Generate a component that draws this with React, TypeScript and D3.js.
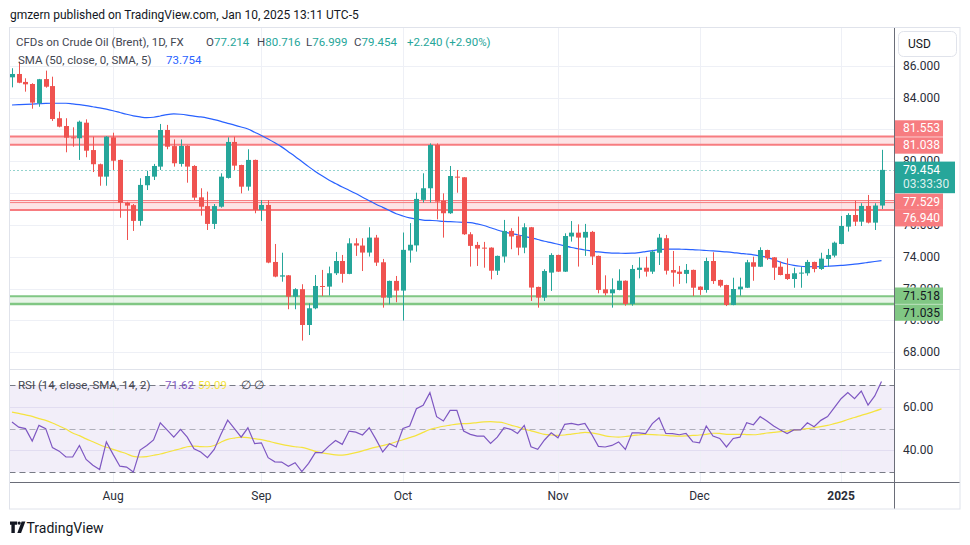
import React from 'react';
import * as d3 from 'd3';

// ---------- DATA ----------
const openP = [
  85.27, 85.48, 84.98, 84.85, 83.64, 85.16, 84.72, 82.70, 82.21, 81.50,
  81.44, 82.42, 80.70, 79.81, 79.03, 81.50, 80.08, 77.39, 77.24, 76.25,
  78.49, 79.03, 79.66, 81.96, 80.95, 79.83, 80.96, 79.70, 77.73, 77.18,
  76.06, 77.14, 78.95, 81.21, 79.76, 78.40, 80.08, 76.94, 77.25, 73.67,
  72.75, 72.83, 71.49, 71.96, 69.71, 70.76, 72.16, 72.12, 72.96, 73.73,
  72.92, 74.84, 74.70, 74.26, 75.20, 73.65, 71.43, 72.48, 71.87, 74.39,
  74.71, 77.57, 78.30, 81.02, 77.52, 76.73, 79.03, 78.99, 75.41, 74.74,
  74.57, 74.57, 73.12, 74.01, 75.62, 75.33, 74.57, 75.85, 72.10, 71.43,
  73.00, 74.11, 73.06, 75.27, 75.51, 75.20, 75.56, 74.05, 71.95, 71.70,
  71.91, 72.49, 71.03, 73.17, 73.31, 73.06, 74.25, 75.16, 73.16, 73.06,
  72.92, 73.17, 72.12, 71.91, 73.73, 72.54, 72.22, 70.97, 71.95, 72.05,
  73.65, 73.37, 74.42, 73.96, 73.37, 72.92, 72.60, 72.96, 72.96, 73.67,
  73.23, 73.86, 74.07, 74.80, 75.89, 76.62, 76.20, 77.19, 76.14, 77.214,
];
const highP = [
  85.84, 86.25, 85.21, 84.90, 85.17, 85.69, 85.31, 83.11, 82.70, 82.13,
  82.55, 82.63, 81.54, 79.85, 81.58, 81.79, 80.10, 77.45, 77.31, 78.93,
  79.40, 79.83, 82.34, 82.28, 81.37, 81.37, 81.00, 79.75, 78.30, 78.09,
  77.31, 79.24, 81.50, 81.54, 79.78, 80.75, 80.10, 77.56, 77.56, 74.80,
  74.25, 72.85, 72.02, 72.27, 71.07, 72.85, 73.17, 73.38, 74.30, 74.11,
  75.16, 75.16, 75.16, 75.85, 75.37, 73.86, 72.50, 72.79, 75.52, 76.11,
  78.02, 79.24, 81.12, 81.12, 77.98, 79.70, 79.45, 79.00, 75.54, 74.93,
  74.93, 74.59, 74.07, 76.31, 75.79, 76.52, 76.10, 75.87, 72.12, 73.21,
  74.22, 74.13, 75.47, 76.24, 76.03, 76.06, 75.62, 74.07, 72.83, 72.64,
  73.21, 72.51, 73.48, 73.96, 74.00, 74.43, 75.43, 75.37, 74.36, 73.42,
  73.54, 73.19, 72.14, 73.94, 74.28, 72.56, 72.24, 72.68, 72.68, 73.80,
  74.00, 74.59, 74.44, 73.98, 73.69, 73.90, 73.31, 73.37, 73.80, 73.69,
  74.25, 74.49, 74.95, 76.56, 76.73, 77.52, 77.36, 77.88, 77.36, 80.716,
];
const lowP = [
  84.64, 84.90, 84.37, 83.30, 83.42, 84.62, 82.53, 82.13, 80.56, 80.91,
  80.08, 80.25, 79.32, 78.46, 78.46, 79.45, 76.45, 75.05, 75.62, 75.95,
  78.19, 78.82, 79.45, 80.75, 79.66, 79.66, 78.65, 77.56, 76.58, 75.68,
  75.74, 77.08, 78.91, 79.45, 77.98, 78.15, 76.73, 76.25, 73.59, 72.71,
  72.43, 70.70, 70.70, 68.73, 69.08, 70.70, 71.53, 71.56, 72.85, 72.37,
  72.90, 74.05, 73.10, 74.01, 73.42, 70.80, 71.01, 71.14, 69.99, 73.63,
  74.32, 77.40, 77.40, 76.35, 75.20, 76.69, 78.02, 75.37, 73.38, 73.42,
  73.31, 72.58, 72.85, 73.63, 74.47, 74.09, 74.22, 71.22, 70.80, 71.22,
  71.85, 73.04, 73.04, 74.95, 73.38, 74.05, 73.48, 71.70, 71.56, 70.80,
  71.89, 70.92, 70.92, 72.64, 72.75, 72.92, 73.48, 72.88, 72.12, 72.29,
  72.33, 71.53, 71.60, 71.74, 72.29, 72.08, 70.90, 70.95, 71.55, 72.03,
  72.49, 73.35, 73.80, 72.54, 72.83, 72.54, 72.05, 72.05, 72.81, 73.02,
  73.17, 73.37, 73.96, 74.78, 75.58, 75.93, 75.93, 76.09, 75.68, 76.999,
];
const closeP = [
  85.48, 84.93, 84.83, 83.68, 85.15, 84.68, 82.65, 82.17, 81.48, 81.45,
  82.48, 80.66, 79.81, 79.03, 81.54, 80.03, 77.39, 77.21, 76.25, 78.51,
  79.07, 79.70, 81.96, 80.91, 79.87, 80.96, 79.66, 77.71, 77.14, 76.06,
  77.18, 79.03, 81.21, 79.72, 78.40, 80.08, 76.94, 77.25, 73.63, 72.75,
  72.83, 71.49, 71.96, 69.71, 70.76, 72.16, 72.12, 72.96, 73.73, 72.92,
  74.84, 74.70, 74.26, 75.20, 73.63, 71.43, 72.48, 71.87, 74.43, 74.75,
  77.63, 78.30, 81.02, 77.46, 76.73, 79.07, 78.99, 75.41, 74.68, 74.51,
  74.51, 73.12, 74.05, 75.62, 75.27, 74.57, 75.85, 72.06, 71.43, 73.10,
  74.11, 73.06, 75.30, 75.51, 75.20, 75.56, 74.01, 71.91, 71.70, 71.95,
  72.49, 71.03, 73.23, 73.31, 73.06, 74.32, 75.20, 73.12, 73.00, 72.92,
  73.17, 72.05, 71.91, 73.73, 72.47, 72.18, 70.97, 71.97, 72.12, 73.65,
  73.37, 74.42, 73.90, 73.31, 72.85, 72.60, 72.96, 73.00, 73.67, 73.23,
  73.88, 74.11, 74.88, 75.93, 76.62, 76.20, 77.19, 76.14, 77.214, 79.454,
];
const sma50 = [
  83.53, 83.55, 83.57, 83.59, 83.61, 83.63, 83.64, 83.64, 83.64, 83.60,
  83.55, 83.49, 83.42, 83.35, 83.27, 83.17, 83.06, 82.95, 82.85, 82.78,
  82.74, 82.76, 82.84, 82.93, 82.97, 82.95, 82.90, 82.83, 82.78, 82.71,
  82.61, 82.50, 82.38, 82.27, 82.15, 82.02, 81.82, 81.62, 81.40, 81.16,
  80.90, 80.60, 80.30, 79.98, 79.66, 79.36, 79.08, 78.82, 78.60, 78.38,
  78.18, 77.97, 77.74, 77.52, 77.30, 77.10, 76.90, 76.70, 76.56, 76.44,
  76.36, 76.30, 76.28, 76.26, 76.22, 76.20, 76.18, 76.16, 76.14, 76.06,
  75.96, 75.82, 75.68, 75.56, 75.46, 75.38, 75.28, 75.18, 75.08, 74.97,
  74.88, 74.78, 74.68, 74.58, 74.50, 74.42, 74.36, 74.30, 74.26, 74.23,
  74.22, 74.21, 74.22, 74.26, 74.32, 74.38, 74.44, 74.47, 74.48, 74.47,
  74.46, 74.44, 74.42, 74.39, 74.36, 74.33, 74.30, 74.26, 74.21, 74.17,
  74.12, 74.04, 73.96, 73.82, 73.66, 73.54, 73.45, 73.40, 73.38, 73.37,
  73.38, 73.40, 73.42, 73.45, 73.49, 73.53, 73.58, 73.64, 73.70, 73.754,
];
const rsi = [
  53.0, 50.7, 50.0, 44.3, 51.5, 50.0, 41.3, 39.7, 37.0, 37.0,
  42.3, 35.9, 33.2, 31.3, 43.9, 38.2, 32.8, 32.4, 30.1, 40.2,
  42.3, 44.8, 52.7, 49.4, 46.1, 49.7, 46.1, 40.8, 39.3, 36.7,
  40.5, 47.4, 53.9, 50.0, 46.1, 50.4, 43.1, 43.5, 36.7, 34.8,
  34.7, 32.8, 34.4, 30.3, 34.1, 39.0, 39.0, 42.0, 44.6, 42.8,
  48.9, 48.4, 47.1, 50.4, 45.1, 39.3, 43.1, 41.6, 50.1, 51.2,
  59.1, 60.7, 66.5, 55.5, 53.5, 58.4, 58.4, 48.9, 47.4, 46.6,
  46.6, 43.2, 46.1, 50.4, 49.7, 47.8, 51.5, 41.7, 40.5, 44.8,
  48.1, 45.8, 52.0, 52.4, 51.7, 52.4, 47.4, 41.9, 41.6, 42.3,
  43.9, 40.5, 48.1, 48.1, 47.7, 52.3, 55.0, 47.8, 47.7, 47.2,
  47.8, 44.0, 43.5, 51.2, 46.6, 45.5, 41.6, 45.5, 46.1, 52.7,
  51.8, 55.5, 53.5, 51.2, 49.4, 47.8, 49.4, 49.4, 52.7, 50.9,
  53.8, 55.5, 59.6, 63.7, 66.5, 63.7, 67.2, 60.8, 65.0, 71.62,
];
const rsiMa = [
  57.6, 57.0, 56.3, 55.6, 54.6, 53.8, 52.6, 51.2, 49.8, 48.0,
  46.8, 45.3, 44.0, 42.6, 41.5, 40.5, 39.5, 38.5, 37.3, 37.0,
  37.2, 37.8, 38.4, 39.2, 40.0, 40.8, 41.7, 42.0, 41.8, 41.7,
  42.3, 43.8, 45.1, 45.7, 46.1, 45.9, 45.4, 45.0, 44.3, 43.5,
  42.8, 42.2, 41.7, 41.4, 40.6, 39.6, 38.9, 38.4, 38.0, 37.9,
  38.3, 39.0, 39.8, 40.7, 41.5, 42.2, 43.0, 44.0, 44.9, 45.9,
  46.9, 48.3, 49.6, 50.4, 51.1, 51.6, 52.1, 52.3, 52.4, 52.8,
  53.1, 53.2, 53.0, 52.6, 51.6, 50.8, 49.8, 49.0, 48.2, 47.4,
  47.1, 46.9, 47.1, 47.5, 47.9, 48.3, 48.1, 47.5, 46.7, 46.3,
  46.1, 46.4, 46.8, 47.1, 47.4, 47.3, 47.1, 46.9, 46.7, 46.6,
  46.7, 46.9, 47.1, 47.4, 47.9, 47.8, 47.4, 47.4, 47.4, 47.3,
  47.2, 47.5, 48.0, 48.3, 48.6, 48.9, 49.3, 49.6, 50.0, 50.4,
  50.9, 51.5, 52.3, 53.1, 54.2, 55.1, 56.1, 57.0, 58.0, 59.09,
];

const priceTicks = [86, 84, 82, 80, 78, 76, 74, 72, 70, 68];
const rsiTicks = [60, 40];
const rsiBands = [70, 50, 30];
const monthLabels = ['Aug', 'Sep', 'Oct', 'Nov', 'Dec', '2025'];
const monthIndex = [15, 37, 58, 81, 102, 123];

const redZones = [
  [81.553, 81.038],
  [77.529, 76.94],
];
const redExtraLevel = 77.4;
const greenZone = [71.518, 71.035];
const lastPrice = 79.454;
const countdown = '03:33:30';

const levelLabels = [
  { v: 81.553, kind: 'red' },
  { v: 81.038, kind: 'red' },
  { v: 77.529, kind: 'red' },
  { v: 76.94, kind: 'red' },
  { v: 71.518, kind: 'green' },
  { v: 71.035, kind: 'green' },
];
// layout nudges (px) so stacked labels do not overlap, as in the reference
const labelNudge = [-8, 0.8, 1.2, 8.3, -0.5, 8.7];
const lastLabelNudge = 7.5;

// ---------- LAYOUT ----------
const W = 970;
const H = 545;
const frameL = 9.5;
const frameT = 27.5;
const frameR = 960;
const frameB = 509;
const paneR = 894.5;
const mainBottom = 369.5;
const rsiBottom = 482.5;
const LBL_H = 16.4;
const LAST_H = 31.6;

const UP = '#26a69a';
const DOWN = '#ef5350';
const FONT = "Roboto, 'Liberation Sans', Arial, sans-serif";

const x = d3.scaleLinear().domain([0, closeP.length - 1]).range([12, 881.5]);
const y = d3.scaleLinear().domain([68, 86]).range([352.2, 65.7]);
const yr = d3.scaleLinear().domain([30, 70]).range([472.3, 385]);

export default function App() {
  const smaPath = d3
    .line<number>()
    .x((_, i) => x(i))
    .y((d) => y(d))
    .curve(d3.curveMonotoneX)(sma50) as string;
  const rsiPath = d3
    .line<number>()
    .x((_, i) => x(i))
    .y((d) => yr(d))(rsi) as string;
  const rsiMaPath = d3
    .line<number>()
    .x((_, i) => x(i))
    .y((d) => yr(d))
    .curve(d3.curveMonotoneX)(rsiMa) as string;

  const candles = closeP.map((c, i) => {
    const o = openP[i];
    const up = c >= o;
    const cx = Math.round(x(i));
    const top = y(Math.max(o, c));
    const bot = y(Math.min(o, c));
    return (
      <g key={i} fill={up ? UP : DOWN} stroke="none">
        <rect x={cx} y={y(highP[i])} width={1} height={y(lowP[i]) - y(highP[i])} />
        <rect x={cx - 2} y={top} width={5} height={Math.max(1, bot - top)} />
      </g>
    );
  });

  const lastY = y(lastPrice) + lastLabelNudge;

  // vertical extents of the axis label boxes (for hiding fully covered ticks)
  const boxes: [number, number][] = levelLabels.map((l, k) => {
    const cy = y(l.v) + labelNudge[k];
    return [cy - LBL_H / 2, cy + LBL_H / 2];
  });
  boxes.push([lastY - LAST_H / 2, lastY + LAST_H / 2]);
  const covered = (t: number) => {
    const a = t - 4.5;
    const b = t + 4.5;
    // check every point of [a,b] lies in some box
    for (let v = a; v <= b; v += 0.5) {
      if (!boxes.some(([p, q]) => v >= p - 0.3 && v <= q + 0.3)) return false;
    }
    return true;
  };

  return (
    <div style={{ position: 'fixed', left: 0, top: 0, width: W, height: H, background: '#fff' }}>
      <svg width={W} height={H} viewBox={`0 0 ${W} ${H}`} style={{ display: 'block', fontFamily: FONT }}>
        <rect x={0} y={0} width={W} height={H} fill="#ffffff" />

        {/* header */}
        <text x={10} y={15} fontSize={12} fill="#131722" dominantBaseline="central">
          gmzern published on TradingView.com, Jan 10, 2025 13:11 UTC-5
        </text>

        {/* RSI background */}
        <rect x={frameL} y={yr(70)} width={paneR - frameL} height={yr(30) - yr(70)} fill="rgba(126,87,194,0.1)" />

        {/* grid */}
        {monthIndex.map((mi, k) => (
          <line key={'vg' + k} x1={Math.round(x(mi)) + 0.5} x2={Math.round(x(mi)) + 0.5} y1={frameT} y2={rsiBottom} stroke="#eef0f6" strokeWidth={1} />
        ))}
        {priceTicks.map((p) => (
          <line key={'hg' + p} x1={frameL} x2={paneR} y1={Math.round(y(p)) + 0.5} y2={Math.round(y(p)) + 0.5} stroke="#eef0f6" strokeWidth={1} />
        ))}
        {rsiTicks.map((t) => (
          <line key={'rg' + t} x1={frameL} x2={paneR} y1={Math.round(yr(t)) + 0.5} y2={Math.round(yr(t)) + 0.5} stroke="#e2ddf1" strokeWidth={1} />
        ))}

        {/* zones */}
        {redZones.map((z, k) => (
          <g key={'rz' + k}>
            <rect x={frameL} y={y(z[0])} width={paneR - frameL} height={y(z[1]) - y(z[0])} fill="rgba(242,54,69,0.14)" />
            <line x1={frameL} x2={paneR} y1={y(z[0])} y2={y(z[0])} stroke="#f77c80" strokeWidth={k === 1 ? 1 : 2} />
            <line x1={frameL} x2={paneR} y1={y(z[1])} y2={y(z[1])} stroke="#f77c80" strokeWidth={2} />
          </g>
        ))}
        <line x1={frameL} x2={paneR} y1={y(redExtraLevel)} y2={y(redExtraLevel)} stroke="#f77c80" strokeWidth={1} />
        <rect x={frameL} y={y(greenZone[0])} width={paneR - frameL} height={y(greenZone[1]) - y(greenZone[0])} fill="rgba(76,175,80,0.13)" />
        <line x1={frameL} x2={paneR} y1={y(greenZone[0])} y2={y(greenZone[0])} stroke="#81c784" strokeWidth={2} />
        <line x1={frameL} x2={paneR} y1={y(greenZone[1])} y2={y(greenZone[1])} stroke="#81c784" strokeWidth={2.5} />

        {/* last price dotted line */}
        <line x1={frameL} x2={paneR} y1={Math.round(y(lastPrice)) + 0.5} y2={Math.round(y(lastPrice)) + 0.5} stroke={UP} strokeWidth={1} strokeDasharray="1,3" />

        {/* SMA */}
        <path d={smaPath} fill="none" stroke="#2962ff" strokeWidth={1.2} />

        {/* candles */}
        {candles}

        {/* RSI */}
        {rsiBands.map((b) => (
          <line key={'rb' + b} x1={frameL} x2={paneR} y1={Math.round(yr(b)) + 0.5} y2={Math.round(yr(b)) + 0.5}
            stroke={b === 50 ? 'rgba(120,123,134,0.55)' : '#787b86'} strokeWidth={1} strokeDasharray="6,4" />
        ))}
        <path d={rsiMaPath} fill="none" stroke="#f5e33f" strokeWidth={1.2} />
        <path d={rsiPath} fill="none" stroke="#7e57c2" strokeWidth={1.2} />

        {/* legends */}
        <g fontSize={11.5} dominantBaseline="central">
          <text x={16} y={42} fill="#434651">CFDs on Crude Oil (Brent), 1D, FX</text>
          <text x={206} y={42} fill="#434651">O<tspan fill={UP}>77.214</tspan></text>
          <text x={257} y={42} fill="#434651">H<tspan fill={UP}>80.716</tspan></text>
          <text x={306} y={42} fill="#434651">L<tspan fill={UP}>76.999</tspan></text>
          <text x={354} y={42} fill="#434651">C<tspan fill={UP}>79.454</tspan></text>
          <text x={407} y={42} fill={UP}>+2.240 (+2.90%)</text>
          <text x={18} y={60} fill="#434651">SMA (50, close, 0, SMA, 5)</text>
          <text x={166} y={60} fill="#2962ff">73.754</text>
          <text x={18} y={385} fill="#434651">RSI (14, close, SMA, 14, 2)</text>
          <text x={165} y={385} fill="#7e57c2">71.62</text>
          <text x={198} y={385} fill="#f5e33f">59.09</text>
          <text x={241} y={385} fill="#434651">∅</text>
          <text x={254} y={385} fill="#434651">∅</text>
        </g>

        {/* pane separators and axes lines */}
        <line x1={frameL} x2={frameR} y1={mainBottom} y2={mainBottom} stroke="#e0e3eb" />
        <rect x={paneR} y={frameT} width={frameR - paneR} height={frameB - frameT} fill="#ffffff" />
        <line x1={frameL} x2={frameR} y1={rsiBottom} y2={rsiBottom} stroke="#6a6d78" />
        <line x1={paneR} x2={paneR} y1={frameT} y2={frameB} stroke="#6a6d78" />
        <line x1={paneR} x2={frameR} y1={mainBottom} y2={mainBottom} stroke="#e0e3eb" />
        <rect x={frameL} y={frameT} width={frameR - frameL} height={frameB - frameT} fill="none" stroke="#e0e3eb" />

        {/* price axis ticks */}
        <g fontSize={12} fill="#2a2e39" dominantBaseline="central">
          {priceTicks.filter((p) => !covered(y(p))).map((p) => (
            <text key={'pt' + p} x={903} y={y(p)}>{d3.format('.3f')(p)}</text>
          ))}
          {rsiTicks.map((t) => (
            <text key={'rt' + t} x={903} y={yr(t)}>{d3.format('.2f')(t)}</text>
          ))}
        </g>

        {/* USD button */}
        <rect x={898.5} y={31.5} width={58} height={25} rx={5} fill="#fff" stroke="#e0e3eb" />
        <text x={908} y={44} fontSize={12} fill="#131722" dominantBaseline="central">USD</text>

        {/* level label boxes */}
        {levelLabels.map((l, k) => {
          const cy = y(l.v) + labelNudge[k];
          const red = l.kind === 'red';
          return (
            <g key={'ll' + k}>
              <rect x={895} y={cy - LBL_H / 2} width={48} height={LBL_H} fill={red ? '#f77c80' : '#81c784'} />
              <text x={903} y={cy} fontSize={12} fill={red ? '#ffffff' : '#131722'} dominantBaseline="central">
                {d3.format('.3f')(l.v)}
              </text>
            </g>
          );
        })}
        {/* last price label */}
        <rect x={895} y={lastY - LAST_H / 2} width={60} height={LAST_H} fill={UP} />
        <text x={903} y={lastY - 7.4} fontSize={12} fill="#ffffff" dominantBaseline="central">{d3.format('.3f')(lastPrice)}</text>
        <text x={903} y={lastY + 7} fontSize={12} fill="rgba(255,255,255,0.85)" dominantBaseline="central">{countdown}</text>

        {/* time axis */}
        <g fontSize={12} fill="#2a2e39" dominantBaseline="central" textAnchor="middle">
          {monthLabels.map((m, k) => (
            <text key={'ml' + k} x={x(monthIndex[k])} y={495.7} fontWeight={m === '2025' ? 700 : 400}>{m}</text>
          ))}
        </g>

        {/* TradingView logo */}
        <g fill="#131722">
          <path d="M10 521.5h7.2v3.2h-2.4v8.3h-3.4v-8.3h-1.4z" />
          <circle cx={19.2} cy={523.1} r={1.6} />
          <path d="M21.6 521.5h3.8l-4.3 11.5h-3.8z" />
        </g>
        <text x={26.5} y={527.5} fontSize={14} fill="#131722" dominantBaseline="central">TradingView</text>
      </svg>
    </div>
  );
}
